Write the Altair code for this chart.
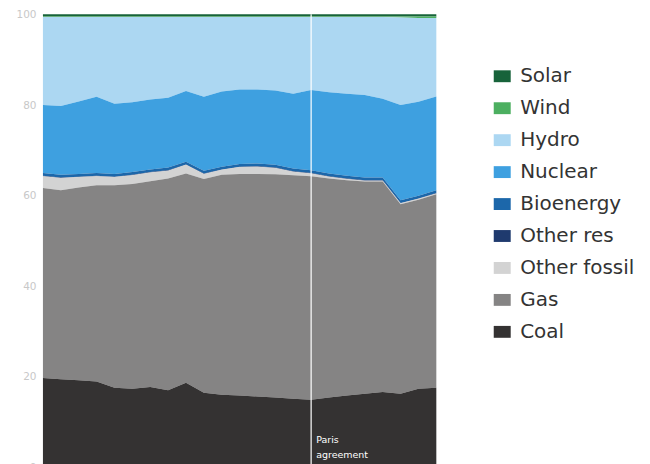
import altair as alt
import pandas as pd

years = list(range(2000, 2023))

coal = [19.8, 19.5, 19.3, 19.0, 17.6, 17.4, 17.8, 17.1, 18.7, 16.5, 16.1, 15.9,
        15.7, 15.5, 15.2, 15.0, 15.5, 15.9, 16.3, 16.7, 16.3, 17.4, 17.6]
gas = [41.9, 41.7, 42.5, 43.3, 44.7, 45.2, 45.4, 46.7, 46.2, 47.2, 48.5, 48.9,
       49.1, 49.2, 49.3, 49.3, 48.3, 47.5, 46.8, 46.4, 41.8, 41.7, 42.7]
other_fossil = [2.6, 2.7, 2.3, 2.0, 1.8, 1.9, 1.9, 1.7, 1.9, 1.1, 1.1, 1.5,
                1.6, 1.4, 0.8, 0.6, 0.4, 0.3, 0.2, 0.2, 0.2, 0.2, 0.2]
other_res = [0.1] * 23
bioenergy = [0.6] * 23
nuclear = [15.0, 15.2, 16.0, 16.8, 15.5, 15.4, 15.4, 15.4, 15.6, 16.3, 16.6, 16.4,
           16.3, 16.4, 16.5, 17.7, 17.9, 18.1, 18.2, 17.4, 21.0, 20.7, 20.7]
hydro = [19.4, 19.6, 18.6, 17.6, 19.1, 18.8, 18.2, 17.8, 16.3, 17.6, 16.4, 16.0,
         16.0, 16.2, 16.9, 16.1, 16.6, 16.9, 17.2, 18.0, 19.3, 18.5, 17.3]
wind = [0.1, 0.1, 0.1, 0.1, 0.1, 0.1, 0.1, 0.1, 0.1, 0.1, 0.1, 0.1,
        0.1, 0.1, 0.1, 0.1, 0.1, 0.1, 0.1, 0.1, 0.2, 0.3, 0.3]
solar = [0.5] * 23

sources = ["Solar", "Wind", "Hydro", "Nuclear", "Bioenergy", "Other res",
           "Other fossil", "Gas", "Coal"]
colors = ["#17633a", "#4caf60", "#acd7f2", "#3ea0e0", "#1c67aa", "#1f3a6e",
          "#d3d3d3", "#858484", "#343232"]
series = {"Solar": solar, "Wind": wind, "Hydro": hydro, "Nuclear": nuclear,
          "Bioenergy": bioenergy, "Other res": other_res,
          "Other fossil": other_fossil, "Gas": gas, "Coal": coal}

rows = []
for s in sources:
    order = len(sources) - 1 - sources.index(s)
    for y, v in zip(years, series[s]):
        rows.append({"year": y, "source": s, "value": v, "order": order})
df = pd.DataFrame(rows)

paris_year = 2015

area = alt.Chart(df).mark_area(interpolate="linear").encode(
    x=alt.X("year:Q", scale=alt.Scale(domain=[2000, 2022], nice=False), axis=None),
    y=alt.Y("value:Q", stack="zero",
            scale=alt.Scale(domain=[0, 100], nice=False),
            axis=alt.Axis(values=[0, 20, 40, 60, 80, 100], title=None, ticks=False,
                          grid=False, domain=True, domainColor="#e6e6e6",
                          labelColor="#c8c8c8", labelFont="DejaVu Sans",
                          labelFontSize=10.5, labelPadding=7)),
    color=alt.Color("source:N", scale=alt.Scale(domain=sources, range=colors),
                    legend=alt.Legend(title=None, orient="none", legendX=450, legendY=52,
                                      symbolType="M-1,-0.7H1V0.7H-1Z", symbolSize=289,
                                      symbolStrokeWidth=0, labelFont="DejaVu Sans",
                                      labelFontSize=20, labelColor="#333333",
                                      labelOffset=8, rowPadding=12, padding=0)),
    order=alt.Order("order:Q", sort="ascending"),
)

rule = alt.Chart().mark_rule(color="white", strokeWidth=1.5, opacity=0.8).encode(
    x=alt.X(datum=paris_year)
)

label = alt.Chart().mark_text(
    text="Paris\nagreement", lineBreak="\n", align="left", baseline="top",
    color="white", font="DejaVu Sans", fontSize=9.5, dx=5, lineHeight=15
).encode(x=alt.X(datum=paris_year), y=alt.value(421))

chart = alt.layer(area, rule, label).properties(
    width=394, height=454,
    padding={"left": 35, "top": 6, "right": 206, "bottom": 0},
    autosize=alt.AutoSizeParams(type="none"),
).configure_view(stroke=None)

chart.save("out.html", embed_options={"renderer": "svg", "actions": False})
